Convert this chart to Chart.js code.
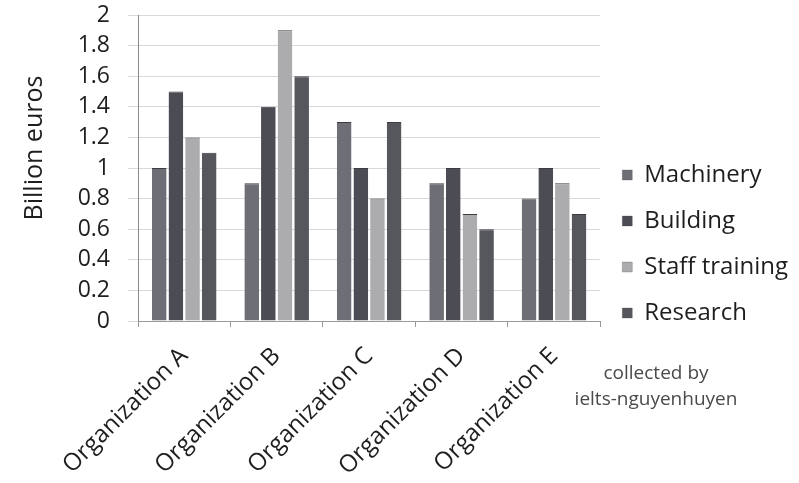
<!DOCTYPE html>
<html>
<head>
<meta charset="utf-8">
<script src="https://cdn.jsdelivr.net/npm/chart.js@4.4.1/dist/chart.umd.min.js"></script>
<style>
  html, body { margin: 0; padding: 0; background: #fff; }
  #wrap { width: 799px; height: 483px; }
</style>
</head>
<body>
<div id="wrap"><canvas id="chart" width="799" height="483"></canvas></div>
<script>
// --- Data ---
const organizations = ["Organization A", "Organization B", "Organization C", "Organization D", "Organization E"];
const machinery = [1.0, 0.9, 1.3, 0.9, 0.8];
const building = [1.5, 1.4, 1.0, 1.0, 1.0];
const staffTraining = [1.2, 1.9, 0.8, 0.7, 0.9];
const research = [1.1, 1.6, 1.3, 0.6, 0.7];
const yTicks = [0, 0.2, 0.4, 0.6, 0.8, 1, 1.2, 1.4, 1.6, 1.8, 2];

const FONT = "'Open Sans', 'Noto Sans', sans-serif";

// y title and credit note, drawn over the chart
const extraText = {
    id: "extraText",
    afterDraw(chart) {
        const ctx = chart.ctx;
        ctx.save();
        ctx.fillStyle = "#1e1e1e";
        ctx.font = "25px " + FONT;
        ctx.textAlign = "center";
        ctx.textBaseline = "middle";
        ctx.translate(35, 148);
        ctx.rotate(-Math.PI / 2);
        ctx.fillText("Billion euros", 0, 0);
        ctx.restore();

        ctx.save();
        ctx.fillStyle = "#4a4a4a";
        ctx.font = "19px " + FONT;
        ctx.textAlign = "center";
        ctx.textBaseline = "middle";
        ctx.fillText("collected by", 656, 374);
        ctx.fillText("ielts-nguyenhuyen", 656, 400);
        ctx.restore();
    }
};

function makeSet(label, data, color) {
    return {
        label, data,
        backgroundColor: color,
        borderColor: "#3c3c42",
        borderWidth: { top: 1, left: 0, right: 0, bottom: 0 },
        categoryPercentage: 0.72,
        barPercentage: 0.88
    };
}

new Chart(document.getElementById("chart"), {
    type: "bar",
    data: {
        labels: organizations,
        datasets: [
            makeSet("Machinery", machinery, "#6e6e77"),
            makeSet("Building", building, "#4c4c54"),
            makeSet("Staff training", staffTraining, "#acacaf"),
            makeSet("Research", research, "#56565d")
        ]
    },
    options: {
        responsive: false,
        animation: false,
        layout: { padding: { top: 5, right: 1, bottom: 0, left: 0 } },
        plugins: {
            tooltip: { enabled: false },
            legend: {
                position: "right",
                labels: {
                    font: { family: FONT, size: 24 },
                    color: "#1e1e1e",
                    boxWidth: 10,
                    boxHeight: 10,
                    padding: 22
                }
            }
        },
        scales: {
            x: {
                grid: { offset: true, drawOnChartArea: false, tickLength: 6, color: "#9a9a9a" },
                border: { color: "#9a9a9a" },
                ticks: {
                    minRotation: 45, maxRotation: 45,
                    font: { family: FONT, size: 24 },
                    color: "#1e1e1e",
                    padding: 15
                },
                afterFit(scale) { scale.height = 162; }
            },
            y: {
                min: 0, max: 2,
                afterBuildTicks(scale) { scale.ticks = yTicks.map(v => ({ value: v })); },
                grid: { color: "#d9d9d9", tickLength: 10 },
                border: { color: "#8a8a8a" },
                ticks: {
                    autoSkip: false,
                    font: { family: FONT, size: 23 },
                    color: "#1e1e1e",
                    padding: 18,
                    callback: v => String(Math.round(v * 10) / 10)
                },
                afterFit(scale) {
                    scale.width = 138;
                    scale.paddingTop = 15;
                    scale.paddingBottom = 0;
                }
            }
        }
    },
    plugins: [extraText]
});
</script>
</body>
</html>
